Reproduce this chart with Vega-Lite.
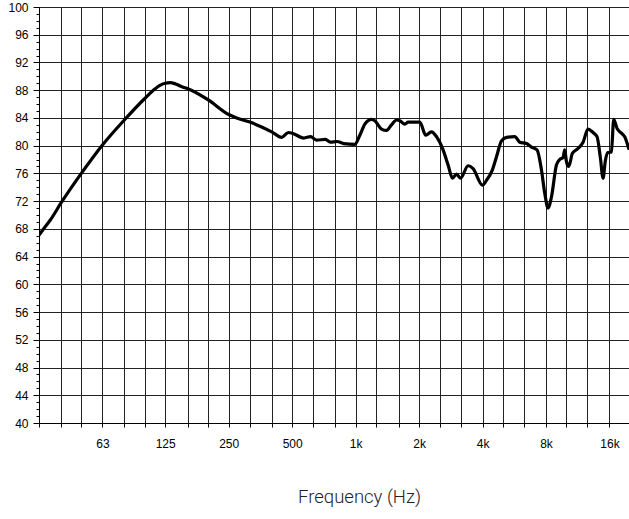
{
  "$schema": "https://vega.github.io/schema/vega-lite/v6.json",
  "width": 590,
  "height": 416,
  "autosize": {"type": "none"},
  "padding": {"left": 39, "top": 7, "right": 0, "bottom": 96},
  "background": "white",
  "config": {
    "view": {"stroke": null},
    "axis": {"labelFont": "Liberation Sans", "labelFontSize": 12, "labelColor": "#000", "domainColor": "#000", "tickColor": "#000", "gridColor": "#222", "gridOpacity": 1, "gridWidth": 1}
  },
  "data": {"values": [
    {"f": 31.5, "db": 67.1}, {"f": 33.5, "db": 68.2}, {"f": 35.5, "db": 69.2}, {"f": 40, "db": 71.7}, {"f": 50, "db": 76.0},
    {"f": 63, "db": 80.1}, {"f": 80, "db": 83.7}, {"f": 100, "db": 86.8}, {"f": 112, "db": 88.2}, {"f": 118, "db": 88.7},
    {"f": 125, "db": 89.0}, {"f": 132, "db": 89.1}, {"f": 140, "db": 88.9}, {"f": 150, "db": 88.5}, {"f": 160, "db": 88.2}, {"f": 200, "db": 86.6},
    {"f": 250, "db": 84.5}, {"f": 273, "db": 84.0}, {"f": 315, "db": 83.4}, {"f": 400, "db": 82.0},
    {"f": 446, "db": 81.2}, {"f": 480, "db": 81.9}, {"f": 500, "db": 81.8}, {"f": 568, "db": 81.1},
    {"f": 611, "db": 81.3}, {"f": 653, "db": 80.8}, {"f": 719, "db": 80.9}, {"f": 759, "db": 80.5},
    {"f": 817, "db": 80.6}, {"f": 879, "db": 80.3}, {"f": 991, "db": 80.2}, {"f": 1047, "db": 81.5},
    {"f": 1106, "db": 83.1}, {"f": 1190, "db": 83.8}, {"f": 1233, "db": 83.6}, {"f": 1327, "db": 82.4},
    {"f": 1402, "db": 82.2}, {"f": 1480, "db": 83.0}, {"f": 1563, "db": 83.7}, {"f": 1621, "db": 83.6},
    {"f": 1712, "db": 83.1}, {"f": 1775, "db": 83.4}, {"f": 2016, "db": 83.4}, {"f": 2152, "db": 81.5},
    {"f": 2290, "db": 82.0}, {"f": 2419, "db": 81.3}, {"f": 2600, "db": 79.4}, {"f": 2746, "db": 77.2},
    {"f": 2880, "db": 75.3}, {"f": 3009, "db": 75.9}, {"f": 3144, "db": 75.3}, {"f": 3416, "db": 77.1},
    {"f": 3606, "db": 76.7}, {"f": 3997, "db": 74.3}, {"f": 4175, "db": 75.0}, {"f": 4439, "db": 76.4},
    {"f": 4658, "db": 78.4}, {"f": 4920, "db": 80.7}, {"f": 5195, "db": 81.2}, {"f": 5687, "db": 81.3},
    {"f": 6006, "db": 80.5}, {"f": 6461, "db": 80.3}, {"f": 6823, "db": 79.8}, {"f": 7252, "db": 79.4},
    {"f": 7613, "db": 76.5}, {"f": 7893, "db": 73.1}, {"f": 8178, "db": 71.0}, {"f": 8489, "db": 72.6},
    {"f": 8965, "db": 77.2}, {"f": 9295, "db": 78.0}, {"f": 9636, "db": 78.3}, {"f": 9812, "db": 79.4},
    {"f": 9998, "db": 77.7}, {"f": 10250, "db": 77.0}, {"f": 10676, "db": 78.9}, {"f": 11350, "db": 79.6},
    {"f": 11989, "db": 80.5}, {"f": 12657, "db": 82.4}, {"f": 13366, "db": 81.9}, {"f": 13964, "db": 81.3},
    {"f": 14493, "db": 78.2}, {"f": 14912, "db": 75.3}, {"f": 15303, "db": 77.9}, {"f": 15744, "db": 79.0},
    {"f": 16342, "db": 79.1}, {"f": 16755, "db": 83.8}, {"f": 17369, "db": 82.5}, {"f": 18223, "db": 81.8},
    {"f": 18891, "db": 81.3}, {"f": 19735, "db": 79.6}
  ]},
  "resolve": {"axis": {"y": "independent"}},
  "layer": [
    {
      "mark": {"type": "line", "color": "#000", "strokeWidth": 3.2, "strokeJoin": "round", "strokeCap": "round", "interpolate": "monotone", "clip": true},
      "encoding": {
        "x": {
          "field": "f", "type": "quantitative",
          "scale": {"type": "log", "domain": [31.5, 19800], "nice": false},
          "axis": {
            "values": [31.5, 40, 50, 63, 80, 100, 125, 160, 200, 250, 315, 400, 500, 630, 800, 1000, 1250, 1600, 2000, 2500, 3150, 4000, 5000, 6300, 8000, 10000, 12500, 16000],
            "labelExpr": "indexof([63,125,250,500,1000,2000,4000,8000,16000], datum.value) >= 0 ? (datum.value >= 1000 ? (datum.value/1000) + 'k' : '' + datum.value) : ''",
            "labelOverlap": false, "labelFlush": false, "labelPadding": 11,
            "tickSize": 4, "grid": true,
            "title": "Frequency (Hz)", "titleFont": "Roboto", "titleFontWeight": 300, "titleFontSize": 18.5, "titleColor": "#222", "titlePadding": 38, "titleX": 320, "titleAlign": "center"
          }
        },
        "y": {
          "field": "db", "type": "quantitative",
          "scale": {"domain": [40, 100], "nice": false, "zero": false},
          "axis": {"orient": "left", "values": [40, 44, 48, 52, 56, 60, 64, 68, 72, 76, 80, 84, 88, 92, 96, 100], "tickSize": 6, "labelPadding": 5, "grid": true, "title": null}
        }
      }
    },
    {
      "mark": {"type": "line", "strokeOpacity": 0},
      "encoding": {
        "x": {"field": "f", "type": "quantitative"},
        "y": {
          "field": "db", "type": "quantitative",
          "axis": {"orient": "left", "values": [40,41,42,43,44,45,46,47,48,49,50,51,52,53,54,55,56,57,58,59,60,61,62,63,64,65,66,67,68,69,70,71,72,73,74,75,76,77,78,79,80,81,82,83,84,85,86,87,88,89,90,91,92,93,94,95,96,97,98,99,100], "tickSize": 3, "labels": false, "domain": false, "grid": false, "title": null}
        }
      }
    }
  ]
}
